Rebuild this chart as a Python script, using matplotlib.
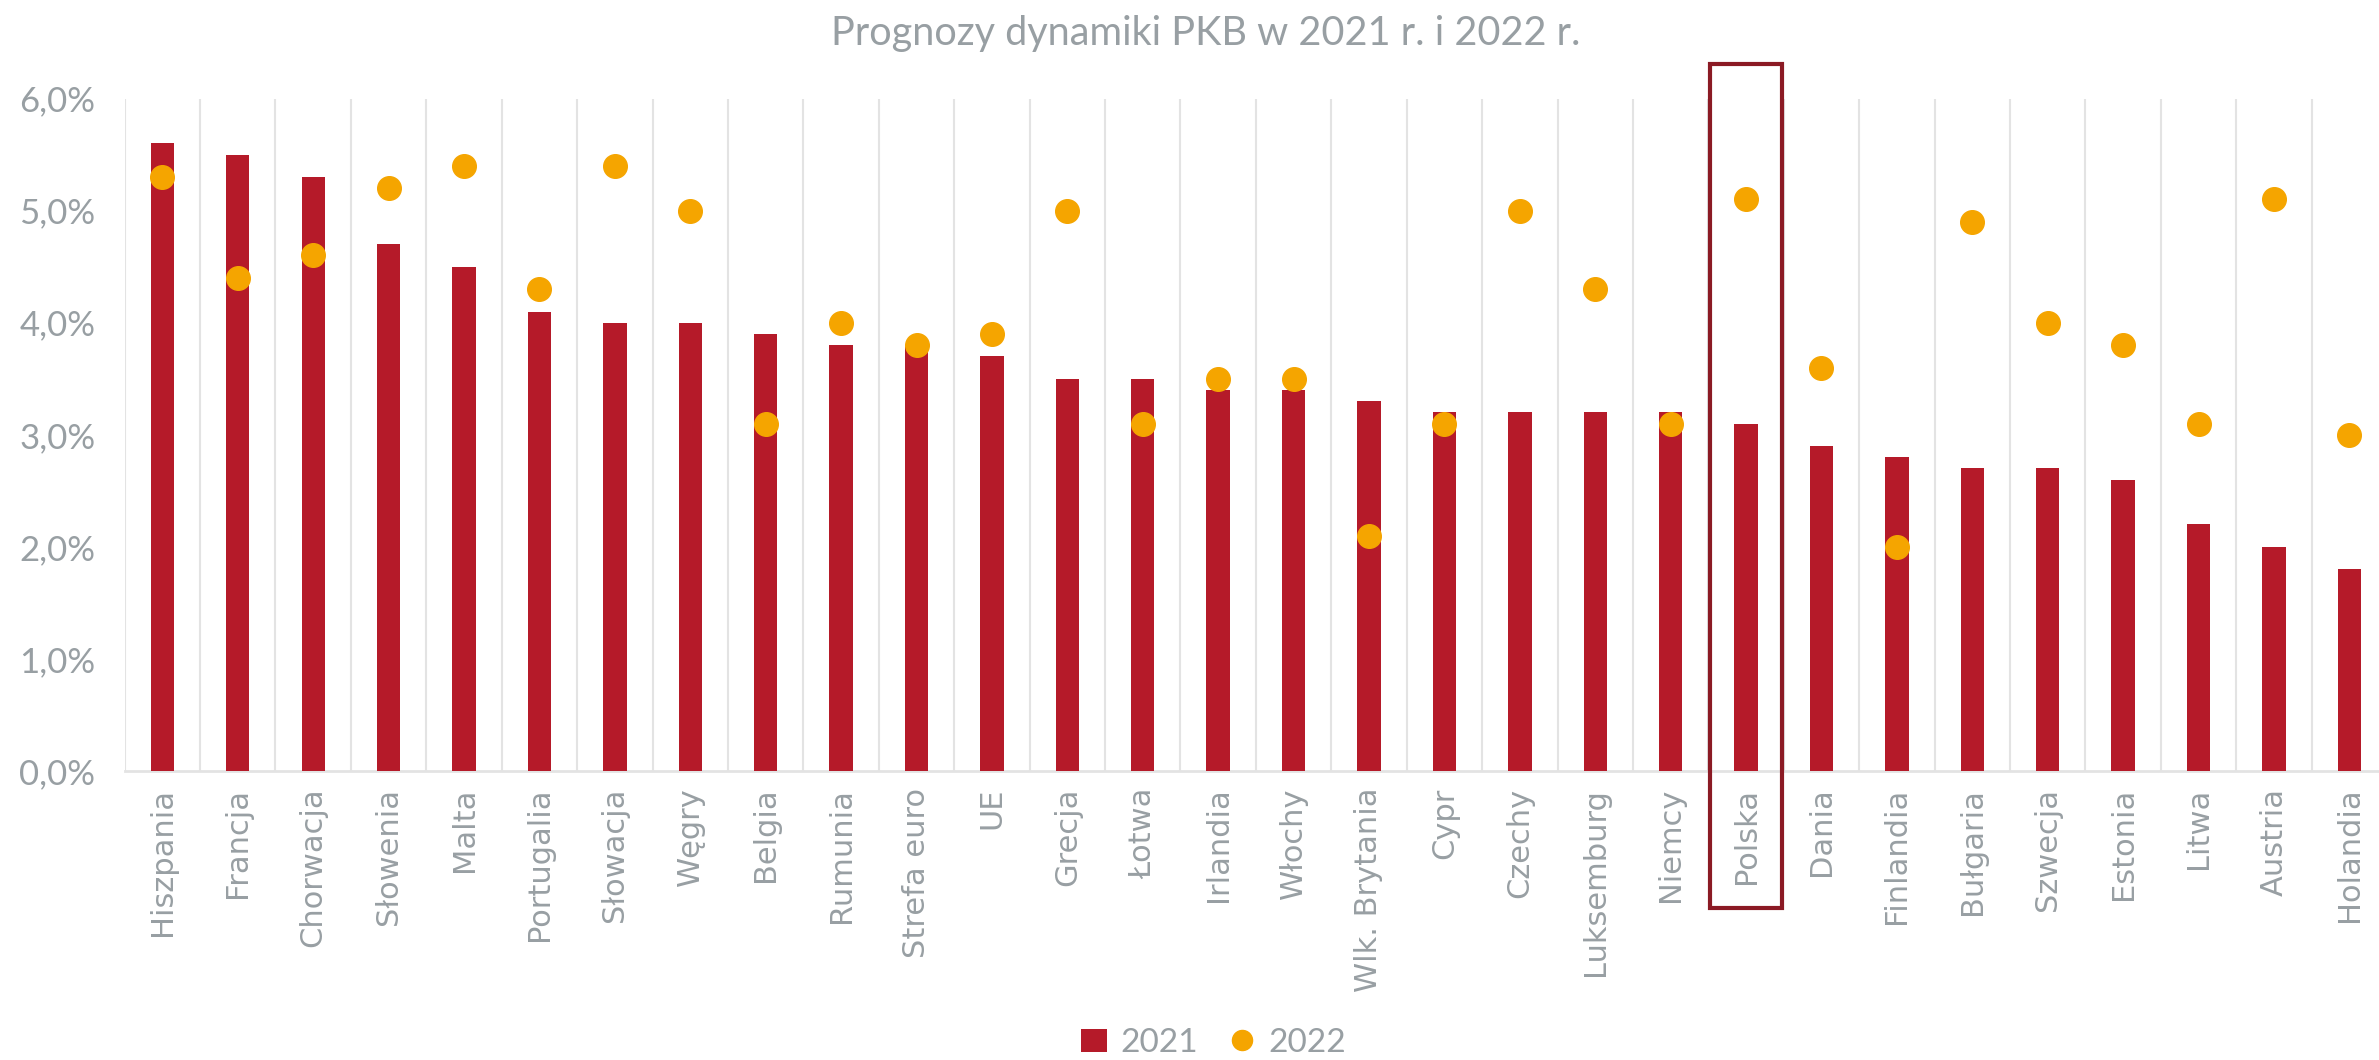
import matplotlib.pyplot as plt
from matplotlib.patches import Rectangle
from matplotlib.ticker import FuncFormatter
import numpy as np

countries = ['Hiszpania', 'Francja', 'Chorwacja', 'Słowenia', 'Malta', 'Portugalia',
             'Słowacja', 'Węgry', 'Belgia', 'Rumunia', 'Strefa euro', 'UE', 'Grecja',
             'Łotwa', 'Irlandia', 'Włochy', 'Wlk. Brytania', 'Cypr', 'Czechy',
             'Luksemburg', 'Niemcy', 'Polska', 'Dania', 'Finlandia', 'Bułgaria',
             'Szwecja', 'Estonia', 'Litwa', 'Austria', 'Holandia']
gdp_2021 = [5.6, 5.5, 5.3, 4.7, 4.5, 4.1, 4.0, 4.0, 3.9, 3.8, 3.8, 3.7, 3.5, 3.5, 3.4,
            3.4, 3.3, 3.2, 3.2, 3.2, 3.2, 3.1, 2.9, 2.8, 2.7, 2.7, 2.6, 2.2, 2.0, 1.8]
gdp_2022 = [5.3, 4.4, 4.6, 5.2, 5.4, 4.3, 5.4, 5.0, 3.1, 4.0, 3.8, 3.9, 5.0, 3.1, 3.5,
            3.5, 2.1, 3.1, 5.0, 4.3, 3.1, 5.1, 3.6, 2.0, 4.9, 4.0, 3.8, 3.1, 5.1, 3.0]
highlight = 'Polska'

grey = '#989FA3'
red = '#B51A29'
orange = '#F5A500'

fig = plt.figure(figsize=(23.79, 10.60), dpi=100)
ax = fig.add_axes([0.0524, 0.2726, 0.951, 0.6344])

x = np.arange(len(countries))
bars = ax.bar(x, gdp_2021, width=0.31, color=red, label='2021', zorder=3)
dots, = ax.plot(x, gdp_2022, 'o', ms=17, color=orange, label='2022', zorder=4)

ax.set_xlim(-0.5, len(countries) - 0.5)
ax.set_ylim(0, 6)
ax.set_yticks(np.arange(0, 7, 1))
ax.yaxis.set_major_formatter(FuncFormatter(lambda v, p: f'{v:.1f}%'.replace('.', ',')))

# category gridlines
for b in np.arange(-0.5, len(countries), 1):
    ax.axvline(b, color='#E3E3E3', lw=1.5, zorder=1)

for s in ['top', 'right', 'left']:
    ax.spines[s].set_visible(False)
ax.spines['bottom'].set_color('#E3E3E3')
ax.spines['bottom'].set_linewidth(2)

ax.set_xticks(x)
ax.set_xticklabels(countries, rotation=90, fontsize=22, color=grey, family='DejaVu Sans')
ax.tick_params(axis='x', length=0, pad=12)
ax.tick_params(axis='y', length=0, labelsize=25, labelcolor=grey, pad=21)
for t in ax.get_yticklabels():
    t.set_family('Lato')

# highlight box
i = countries.index(highlight)
ax.add_patch(Rectangle((i - 0.48, -1.22), 0.96, 7.53, fill=False, ec='#8B1A24',
                       lw=3, clip_on=False, zorder=5))

fig.text(0.507, 0.968, 'Prognozy dynamiki PKB w 2021 r. i 2022 r.', ha='center', va='center',
         fontsize=28.5, color=grey, family='Lato')

leg = fig.legend([bars, dots], ['2021', '2022'], loc='center', bbox_to_anchor=(0.51, 0.016),
                 ncol=2, frameon=False, fontsize=24, labelcolor=grey, handlelength=0.8,
                 handletextpad=0.4, columnspacing=0.9, markerscale=0.85)
for t in leg.get_texts():
    t.set_family('Lato')

fig.savefig('out.png', dpi=100)
